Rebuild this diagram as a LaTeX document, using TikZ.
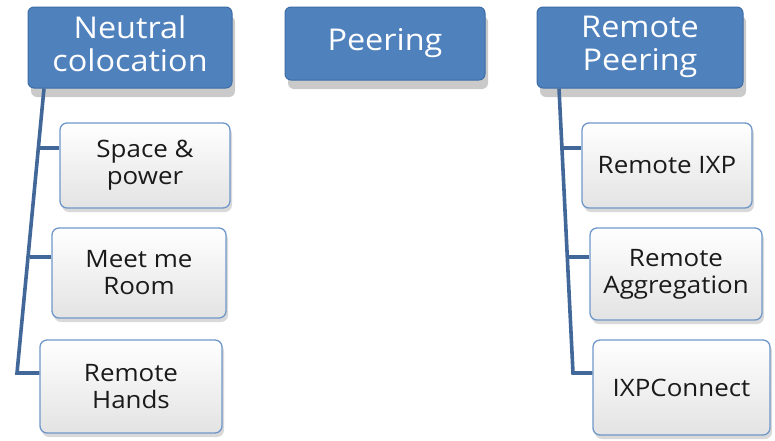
\documentclass[tikz,border=0pt]{standalone}
\usepackage{fontspec}
\setmainfont[FakeStretch=1.08]{Open Sans}
\usetikzlibrary{shadows}
\definecolor{hdrblue}{HTML}{4F81BD}
\definecolor{hdredge}{HTML}{3C6DA6}
\definecolor{kidedge}{HTML}{6F97C9}
\definecolor{linkblue}{HTML}{42689A}
\definecolor{kidtext}{HTML}{1A1A1A}
\tikzset{
  header/.style={draw=hdredge, line width=1pt, fill=hdrblue, rounded corners=6pt,
    text=white, align=center, font=\fontsize{30}{33}\selectfont, inner sep=0pt,
    drop shadow={shadow xshift=3pt, shadow yshift=-9pt, opacity=0.35, fill=black!60}},
  kid/.style={draw=kidedge, line width=1.3pt, top color=white, bottom color=black!11,
    rounded corners=7pt, text=kidtext, align=center,
    font=\fontsize{24}{27}\selectfont, inner sep=0pt,
    drop shadow={shadow xshift=2pt, shadow yshift=-4pt, opacity=0.25, fill=black!60}},
  link/.style={draw=linkblue, line width=3.6pt}
}
\begin{document}
\begin{tikzpicture}[x=1pt, y=-1pt]
\useasboundingbox (0,0) rectangle (775,440);
% headers
\node[header, minimum width=204pt, minimum height=81pt] (nc) at (130,47.5) {Neutral\\colocation\\[-25pt]};
\node[header, minimum width=200pt, minimum height=73pt] (peer) at (385,43.5) {Peering};
\node[header, minimum width=206pt, minimum height=81pt] (rp) at (640,47.5) {Remote\\Peering\\[-25pt]};
% left children
\node[kid, minimum width=170pt, minimum height=85pt] (sp) at (145,165.5) {Space \&\\power};
\node[kid, minimum width=174pt, minimum height=90pt] (mm) at (139,273) {Meet me\\Room};
\node[kid, minimum width=182pt, minimum height=93pt] (rh) at (131,386.5) {Remote\\Hands};
% right children
\node[kid, minimum width=170pt, minimum height=85pt] (ixp) at (667,165.5) {Remote IXP};
\node[kid, minimum width=172pt, minimum height=92pt] (ra) at (676,274) {Remote\\Aggregation};
\node[kid, minimum width=177pt, minimum height=95pt] (ixc) at (681.5,387.5) {IXPConnect};
% trunk points
\coordinate (lt) at (44,88);
\coordinate (l1) at (38.3,148);
\coordinate (l2) at (29.7,257);
\coordinate (l3) at (17,373);
\coordinate (rt) at (559,88);
\coordinate (r1) at (562,148);
\coordinate (r2) at (566.5,257);
\coordinate (r3) at (573,373);
% connectors
\draw[link] (nc.south -| lt) -- (l3) -- (rh.west |- l3);
\draw[link] (l1) -- (sp.west |- l1);
\draw[link] (l2) -- (mm.west |- l2);
\draw[link] (rp.south -| rt) -- (r3) -- (ixc.west |- r3);
\draw[link] (r1) -- (ixp.west |- r1);
\draw[link] (r2) -- (ra.west |- r2);
\end{tikzpicture}
\end{document}
